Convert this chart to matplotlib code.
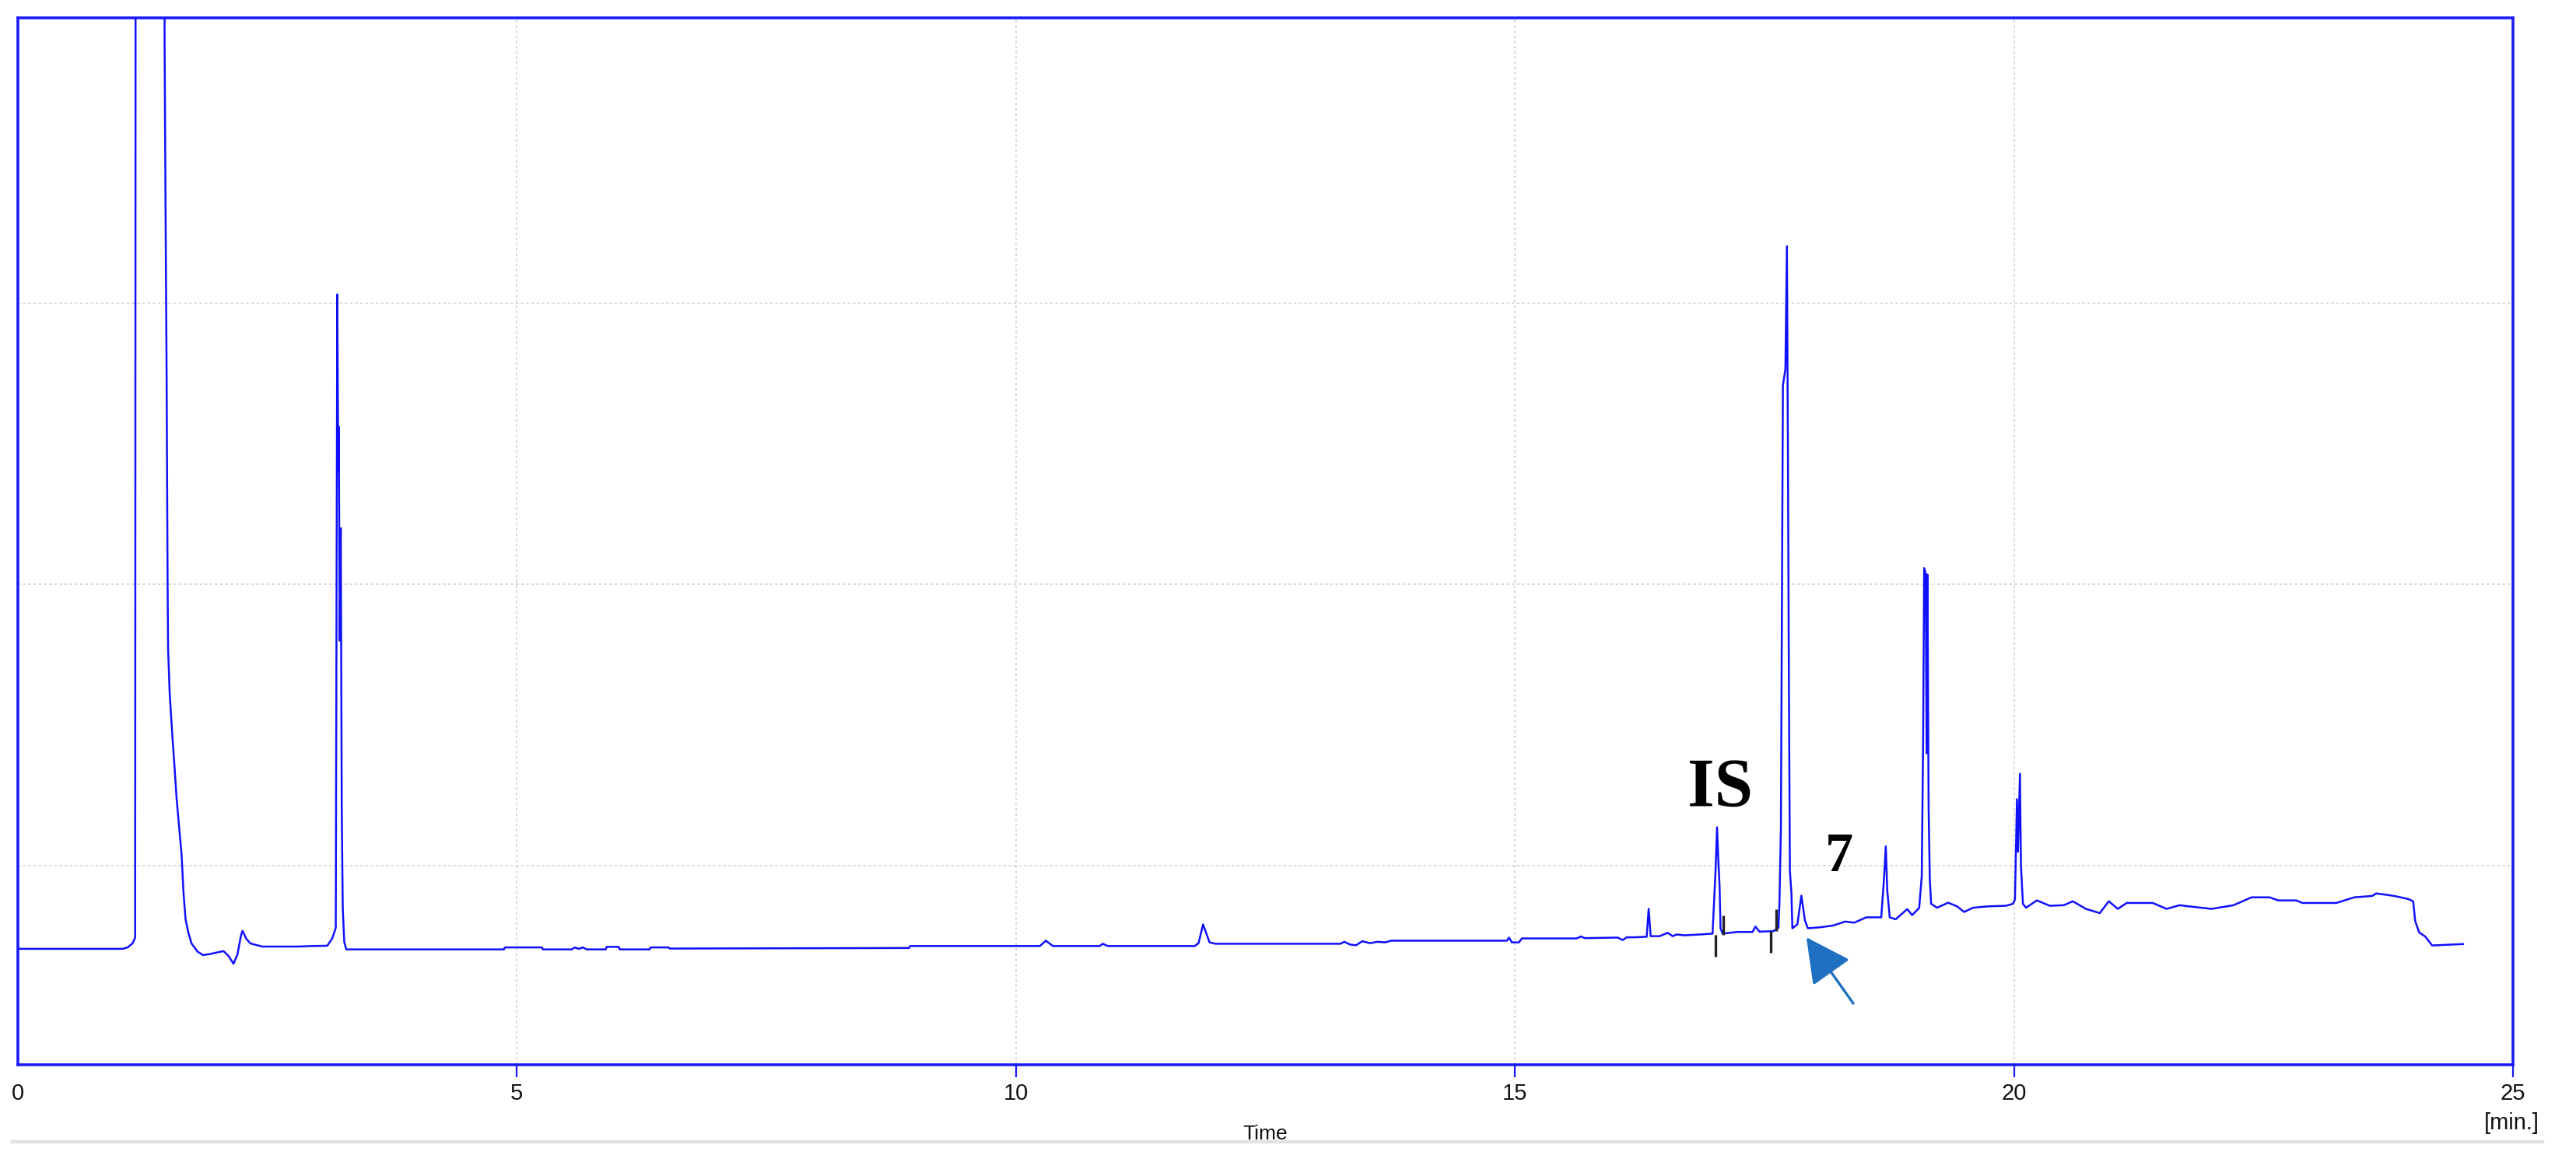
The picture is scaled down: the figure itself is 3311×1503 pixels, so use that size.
import matplotlib
matplotlib.use("Agg")
import matplotlib.pyplot as plt
from matplotlib.patches import FancyArrowPatch
from matplotlib.lines import Line2D

# ---------------- data ----------------
time_min = [
    0.00, 1.05, 1.10, 1.15, 1.175, 1.185, 1.465, 1.47, 1.48, 1.49, 1.50, 1.505,
    1.52, 1.53, 1.55, 1.566, 1.59, 1.61, 1.64, 1.66, 1.68, 1.71, 1.74, 1.80,
    1.855, 1.92, 1.98, 2.06, 2.11, 2.16, 2.20, 2.235, 2.25, 2.29, 2.33, 2.45,
    2.80, 2.95, 3.10, 3.15, 3.185, 3.20, 3.21, 3.215, 3.225, 3.235, 3.245, 3.255,
    3.27, 3.29, 4.87, 4.88, 5.25, 5.26, 5.55, 5.58, 5.62, 5.66, 5.70, 5.89,
    5.90, 6.02, 6.03, 6.33, 6.34, 6.52, 6.53, 8.93, 8.94, 10.24, 10.30, 10.37,
    10.84, 10.87, 10.92, 11.79, 11.83, 11.875, 11.94, 12.00, 13.25, 13.29, 13.35, 13.41,
    13.47, 13.55, 13.62, 13.70, 13.76, 14.92, 14.94, 14.97, 15.04, 15.07, 15.62, 15.66,
    15.70, 16.03, 16.08, 16.12, 16.20, 16.32, 16.34, 16.36, 16.45, 16.53, 16.58, 16.62,
    16.70, 16.85, 16.98, 17.01, 17.025, 17.04, 17.05, 17.06, 17.08, 17.23, 17.38, 17.41,
    17.45, 17.59, 17.64, 17.65, 17.665, 17.675, 17.685, 17.71, 17.725, 17.735, 17.745, 17.755,
    17.77, 17.78, 17.83, 17.87, 17.905, 17.935, 18.07, 18.19, 18.31, 18.40, 18.52, 18.67,
    18.695, 18.716, 18.73, 18.755, 18.815, 18.93, 18.98, 19.05, 19.076, 19.09, 19.10, 19.115,
    19.125, 19.133, 19.145, 19.157, 19.17, 19.23, 19.34, 19.43, 19.50, 19.59, 19.74, 19.92,
    19.99, 20.01, 20.03, 20.04, 20.06, 20.07, 20.09, 20.12, 20.23, 20.36, 20.50, 20.59,
    20.72, 20.86, 20.95, 21.04, 21.13, 21.39, 21.53, 21.66, 21.75, 21.98, 22.20, 22.38,
    22.56, 22.65, 22.83, 22.89, 23.23, 23.41, 23.59, 23.63, 23.81, 23.95, 24.00, 24.02,
    24.06, 24.12, 24.19, 24.50,
]
signal = [
    70.5, 70.5, 71.0, 72.5, 74.5, 900, 900, 392, 330, 275, 200, 177,
    162, 156, 145, 137, 124, 116, 104, 90, 81, 76, 72.4, 69.5,
    68.3, 68.6, 69.1, 69.7, 68.0, 65.2, 68.5, 75.2, 76.9, 74.0, 72.4, 71.3,
    71.3, 71.5, 71.6, 74.2, 78, 303, 240, 256, 180, 220, 120, 85,
    73, 70.3, 70.3, 71.0, 71.0, 70.3, 70.3, 71.0, 70.5, 71.0, 70.3, 70.3,
    71.2, 71.2, 70.3, 70.3, 71.0, 71.0, 70.6, 70.8, 71.5, 71.5, 73.4, 71.5,
    71.5, 72.3, 71.5, 71.5, 72.5, 79.2, 72.8, 72.3, 72.3, 73.0, 72.0, 71.8,
    73.2, 72.5, 73.0, 72.8, 73.4, 73.4, 74.5, 72.8, 72.8, 74.2, 74.2, 74.9,
    74.3, 74.5, 73.6, 74.6, 74.6, 74.8, 84.7, 75.0, 75.0, 76.2, 75.0, 75.6,
    75.3, 75.6, 75.9, 98.2, 113.7, 100.1, 93.3, 77.8, 75.9, 76.5, 76.5, 78.4,
    76.6, 76.8, 78.0, 86.5, 113.7, 191.3, 270.7, 276.6, 320.2, 249.4, 164, 98.2,
    90.4, 77.8, 79.2, 89.4, 80.7, 77.8, 78.2, 78.8, 80.2, 79.8, 81.7, 81.7,
    93.9, 106.9, 91.4, 81.7, 81.0, 84.6, 82.5, 85.0, 96.2, 144.7, 205.8, 204,
    140, 203.5, 120, 95, 86.5, 85.1, 86.9, 85.6, 83.6, 85.1, 85.6, 85.8,
    86.5, 88, 123.7, 105, 132.7, 100, 86.5, 85.1, 87.7, 85.8, 86.0, 87.4,
    84.7, 83.2, 87.4, 84.7, 86.8, 86.8, 84.7, 86.0, 85.6, 84.7, 86.0, 88.8,
    88.8, 87.7, 87.7, 86.8, 86.8, 88.8, 89.3, 90.2, 89.3, 88.2, 87.4, 80.4,
    76.3, 74.9, 71.7, 72.2,
]

# integration markers (black ticks)
marker_t = [17.01, 17.085, 17.56, 17.62]
marker_lo = [67.7, 75.5, 69.1, 76.8]
marker_hi = [75.5, 82.4, 76.8, 84.6]

x_ticks = [0, 5, 10, 15, 20, 25]
x_tick_labels = ["0", "5", "10", "15", "20", "25"]
y_grid = [100, 200, 300]

peak_labels = ["IS", "7"]
peak_label_t = [17.06, 18.25]
peak_label_v = [121.3, 98.1]
peak_label_size = [64, 52]

arrow_tail = (18.39, 51.1)
arrow_tip = (17.92, 74.6)

# ---------------- figure ----------------
W, H = 3312, 1503
fig = plt.figure(figsize=(W / 100, H / 100), dpi=100)
fig.patch.set_facecolor("white")
ax = fig.add_axes([23 / W, 1 - 1369 / H, (3230 - 23) / W, (1369 - 23) / H])

frame_blue = "#1a1aff"
trace_blue = "#1010ff"

ax.set_xlim(0, 25)
ax.set_ylim(29.3, 401.3)

ax.plot(time_min, signal, color=trace_blue, lw=1.8, zorder=3)
ax.vlines(marker_t, marker_lo, marker_hi, color="#222222", lw=2.4, zorder=4)

# grid
ax.set_yticks(y_grid)
ax.set_yticklabels([])
ax.tick_params(axis="y", length=0)
ax.grid(True, color="#d2d2d2", lw=1.2, linestyle=(0, (2, 2)), zorder=0)
ax.set_axisbelow(True)

ax.set_xticks(x_ticks)
ax.set_xticklabels(x_tick_labels, fontfamily="Liberation Sans", fontsize=21, color="#111111")
ax.tick_params(axis="x", direction="out", length=11.5, width=1.6, color=frame_blue, pad=5)
ax.xaxis.get_major_ticks()[0].tick1line.set_visible(False)

for s in ax.spines.values():
    s.set_color(frame_blue)
    s.set_linewidth(2.6)

# peak labels
for lab, t, v, fs in zip(peak_labels, peak_label_t, peak_label_v, peak_label_size):
    ax.text(t, v, lab, fontfamily="Liberation Serif", fontweight="bold", fontsize=fs,
            ha="center", va="baseline", color="black", zorder=5)

# arrow
arr = FancyArrowPatch(posA=arrow_tail, posB=arrow_tip,
                      arrowstyle="-|>,head_length=36,head_width=18.5",
                      mutation_scale=1, color="#1f6fc2", lw=2.4,
                      shrinkA=0, shrinkB=0, zorder=6)
ax.add_patch(arr)

# axis titles
fig.text(1626 / W, 1 - 1465 / H, "Time", fontfamily="Liberation Sans", fontsize=19,
         ha="center", va="baseline", color="#111111")
fig.text(3228 / W, 1 - 1452 / H, "[min.]", fontfamily="Liberation Sans", fontsize=21,
         ha="center", va="baseline", color="#111111")

# light separator line
fig.add_artist(Line2D([16 / W, 3268 / W], [1 - 1468 / H] * 2, color="#e2e2e2", lw=3.2,
                      transform=fig.transFigure))

fig.savefig("out.png", dpi=100, facecolor="white")
